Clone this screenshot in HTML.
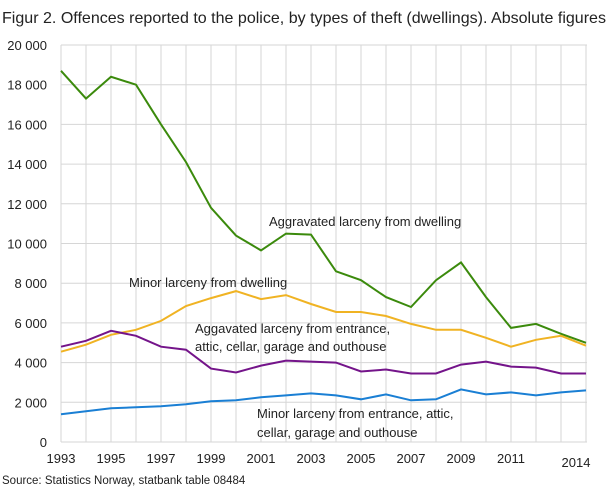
<!DOCTYPE html>
<html><head><meta charset="utf-8"><style>
body{margin:0;background:#fff;}
svg text{font-family:"Liberation Sans",sans-serif;fill:#222;}
</style></head><body>
<svg id="c" width="610" height="489" xmlns="http://www.w3.org/2000/svg">
<text x="2" y="23" font-size="16" textLength="604" lengthAdjust="spacingAndGlyphs">Figur 2. Offences reported to the police, by types of theft (dwellings). Absolute figures</text>
<g id="grid"></g>
<g id="lines"></g>
<text x="269" y="226" font-size="13">Aggravated larceny from dwelling</text>
<text x="129" y="287" font-size="13">Minor larceny from dwelling</text>
<text x="195" y="333" font-size="13">Aggavated larceny from entrance,</text>
<text x="195" y="351" font-size="13">attic, cellar, garage and outhouse</text>
<text x="257" y="418" font-size="13">Minor larceny from entrance, attic,</text>
<text x="257" y="437" font-size="13">cellar, garage and outhouse</text>
<text x="2" y="484" font-size="11.5">Source: Statistics Norway, statbank table 08484</text>
</svg>
<script>
var s=document.getElementById('c'),g=document.getElementById('grid'),L=document.getElementById('lines'),ns='http://www.w3.org/2000/svg';
function el(p,t,a,txt){var e=document.createElementNS(ns,t);for(var k in a)e.setAttribute(k,a[k]);if(txt)e.textContent=txt;p.appendChild(e);return e;}
function X(i){return 61+i*25;}function Y(v){return 442-v*0.01985;}
for(var v=0;v<=20000;v+=2000){el(g,'line',{x1:61,x2:587,y1:Y(v),y2:Y(v),stroke:'#d6d6d6','stroke-width':1});
var t=v==0?'0':(Math.floor(v/1000)+' 000');el(g,'text',{x:47,y:Y(v)+5,'font-size':13,'text-anchor':'end'},t);}
for(var i=0;i<22;i++)el(g,'line',{x1:X(i),x2:X(i),y1:45,y2:442,stroke:'#d6d6d6','stroke-width':1});
[1993,1995,1997,1999,2001,2003,2005,2007,2009,2011].forEach(function(y){el(g,'text',{x:X(y-1993),y:463,'font-size':13,'text-anchor':'middle'},''+y);});
el(g,'text',{x:576,y:467,'font-size':13,'text-anchor':'middle'},'2014');
var D=[
['#3b8a0c',[18700,17300,18400,18000,16000,14100,11800,10400,9650,10500,10450,8600,8150,7300,6800,8150,9050,7300,5750,5950,5450,5000]],
['#f0b323',[4550,4900,5400,5650,6100,6850,7250,7600,7200,7400,6950,6550,6550,6350,5950,5650,5650,5250,4800,5150,5350,4850]],
['#74148a',[4800,5100,5600,5350,4800,4650,3700,3500,3850,4100,4050,4000,3550,3650,3450,3450,3900,4050,3800,3750,3450,3450]],
['#1a7fd4',[1400,1550,1700,1750,1800,1900,2050,2100,2250,2350,2450,2350,2150,2400,2100,2150,2650,2400,2500,2350,2500,2600]]];
D.forEach(function(d){el(L,'polyline',{points:d[1].map(function(v,i){return X(i)+','+Y(v).toFixed(1);}).join(' '),fill:'none',stroke:d[0],'stroke-width':2});});
</script>
</body></html>
